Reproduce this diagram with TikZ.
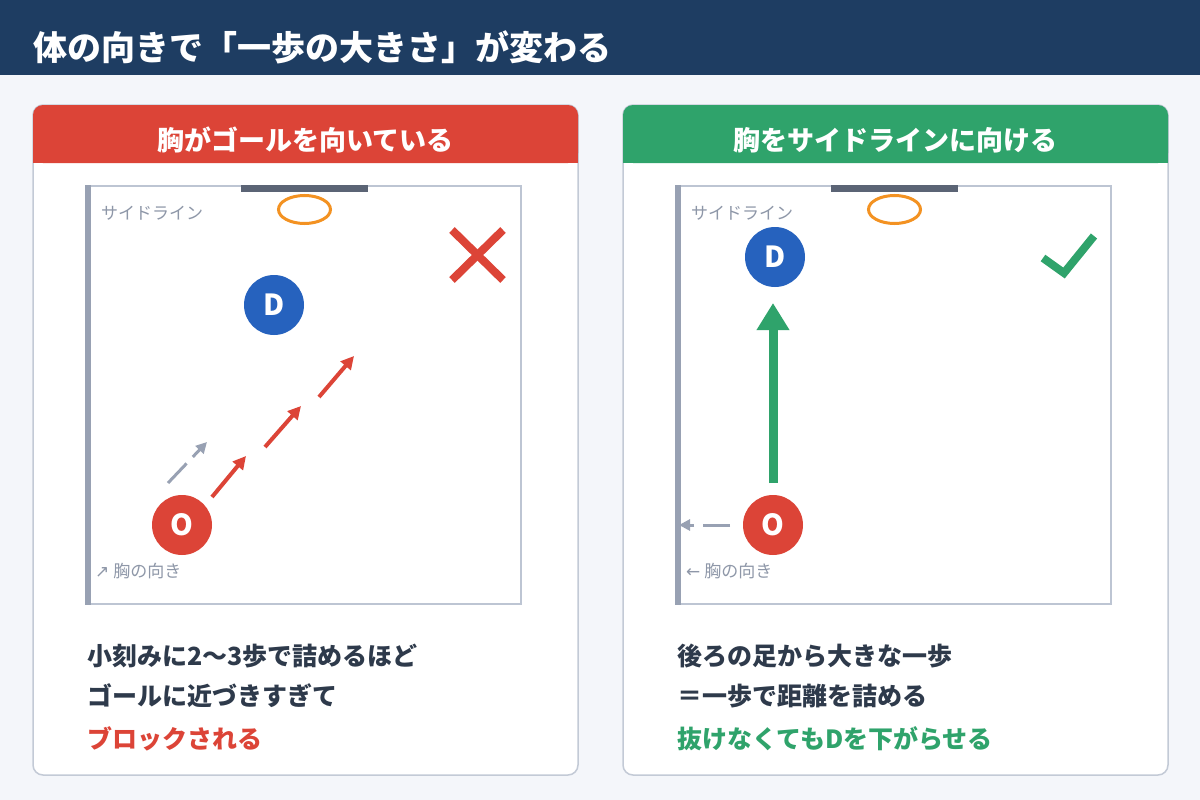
\documentclass[tikz,border=0pt]{standalone}
\usepackage{fontspec}
\setmainfont{Noto Sans CJK JP}
\newfontfamily\symf{DejaVu Sans}
\usetikzlibrary{arrows.meta,shapes.geometric}
\definecolor{navy}{HTML}{1E3D62}
\definecolor{bgc}{HTML}{F4F6FA}
\definecolor{redc}{HTML}{DC4437}
\definecolor{greenc}{HTML}{2FA36B}
\definecolor{bluec}{HTML}{2662BE}
\definecolor{orangec}{HTML}{F39222}
\definecolor{courtc}{HTML}{BDC5D3}
\definecolor{sidebar}{HTML}{98A1B3}
\definecolor{goalc}{HTML}{5B6475}
\definecolor{textc}{HTML}{2E3A4B}
\definecolor{labelc}{HTML}{8E97A8}
\definecolor{panelc}{HTML}{C3CAD6}
\tikzset{
  panel/.style={draw=panelc, line width=1.5pt, fill=white, rounded corners=10pt},
  hdrtext/.style={text=white, font=\bfseries\fontsize{27}{27}\selectfont, inner sep=0pt},
  player/.style={circle, minimum size=60pt, inner sep=0pt, text=white, font=\bfseries\fontsize{29}{29}\selectfont},
  courtlabel/.style={anchor=west, inner sep=0pt, text=labelc, font=\fontsize{17}{17}\selectfont},
  bodytext/.style={anchor=west, inner sep=0pt, text=textc, font=\bfseries\fontsize{25}{25}\selectfont},
  steparrow/.style={draw=redc, line width=4pt, -{Triangle[length=13pt,width=13pt]}},
  facearrow/.style={draw=sidebar, line width=3pt, dash pattern=on 27pt off 9pt, -{Triangle[length=11pt,width=11pt]}},
  bigarrow/.style={draw=greenc, line width=9pt, -{Triangle[length=27pt,width=31pt]}},
  hoop/.style={draw=orangec, line width=3pt, ellipse, minimum width=52pt, minimum height=28pt, inner sep=0pt},
}
\begin{document}
\begin{tikzpicture}[x=1pt,y=-1pt]
\useasboundingbox (0,0) rectangle (1200,800);
\fill[bgc] (0,0) rectangle (1200,800);
\fill[navy] (0,0) rectangle (1200,75);
\node[anchor=west, inner sep=0pt, text=white, font=\bfseries\fontsize{34}{34}\selectfont] (title) at (33,47) {体の向きで「一歩の大きさ」が変わる};

% ---------- left panel ----------
\path[panel] (33,105) rectangle (578,775);
\fill[redc, rounded corners=10pt] (33,105) rectangle (578,163);
\fill[redc] (33,140) rectangle (578,163);
\node[hdrtext] (lh) at (305.5,140) {胸がゴールを向いている};

\draw[courtc, line width=2.5pt] (88,186) rectangle (521,604);
\fill[goalc] (241,185) rectangle (368,192);
\fill[sidebar] (85,185) rectangle (91,605);
\node[hoop] (lhoop) at (304.5,209.5) {};
\node[courtlabel] (lsl) at (101,213) {サイドライン};
\draw[redc, line width=8pt] (452,230) -- (503,280);
\draw[redc, line width=8pt] (503,230) -- (452,280);
\node[player, fill=bluec] (ld) at (274,305) {D};
\node[player, fill=redc] (lo) at (182,525) {O};
\coordinate (la1) at (212,497); \coordinate (lb1) at (246,456);
\coordinate (la2) at (265,447); \coordinate (lb2) at (301,406);
\coordinate (la3) at (319,397); \coordinate (lb3) at (354,356);
\draw[steparrow] (la1) -- (lb1);
\draw[steparrow] (la2) -- (lb2);
\draw[steparrow] (la3) -- (lb3);
\coordinate (lf1) at (168,483); \coordinate (lf2) at (207,442);
\draw[facearrow] (lf1) -- (lf2);
\node[courtlabel] (lface) at (95,571) {{\symf ↗} 胸の向き};

\node[bodytext] (lt1) at (87,656) {小刻みに2〜3歩で詰めるほど};
\node[bodytext] (lt2) at (87,696) {ゴールに近づきすぎて};
\node[bodytext, text=redc] (lt3) at (87,739) {ブロックされる};

% ---------- right panel ----------
\path[panel] (623,105) rectangle (1168,775);
\fill[greenc, rounded corners=10pt] (623,105) rectangle (1168,163);
\fill[greenc] (623,140) rectangle (1168,163);
\node[hdrtext] (rh) at (895.5,140) {胸をサイドラインに向ける};

\draw[courtc, line width=2.5pt] (678,186) rectangle (1111,604);
\fill[goalc] (831,185) rectangle (958,192);
\node[hoop] (rhoop) at (894.5,209.5) {};
\node[courtlabel] (rsl) at (691,213) {サイドライン};
\draw[greenc, line width=8pt] (1043,258) -- (1064,273) -- (1094,236);
\node[player, fill=bluec] (rd) at (775,257) {D};
\node[player, fill=redc] (ro) at (773,525) {O};
\coordinate (rga) at (773,483);
\coordinate (rgb) at (773,303);
\draw[bigarrow] (rga) -- (rgb);
\coordinate (rf1) at (730,525); \coordinate (rf2) at (679,525);
\draw[facearrow] (rf1) -- (rf2);
\fill[sidebar] (675,185) rectangle (681,605);
\node[courtlabel] (rface) at (686,571) {{\symf ←} 胸の向き};

\node[bodytext] (rt1) at (677,656) {後ろの足から大きな一歩};
\node[bodytext] (rt2) at (677,696) {＝一歩で距離を詰める};
\node[bodytext, text=greenc] (rt3) at (677,739) {抜けなくてもDを下がらせる};
\end{tikzpicture}
\end{document}
